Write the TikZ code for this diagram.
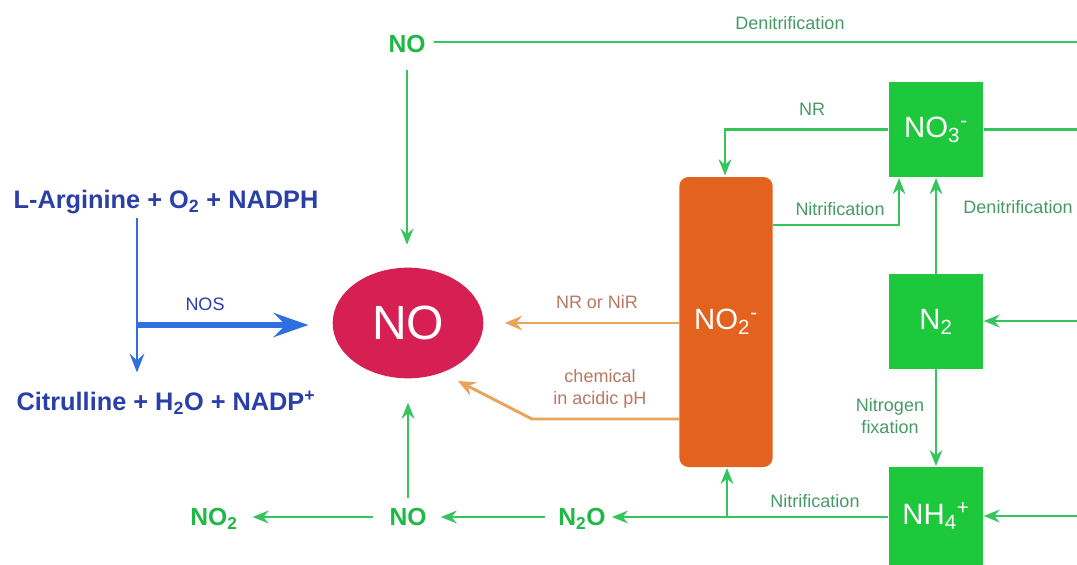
\documentclass[tikz,border=0pt]{standalone}
\usepackage{fontspec}
\setmainfont{Liberation Sans}
\usetikzlibrary{arrows.meta,shapes.geometric,calc}
\definecolor{gline}{HTML}{36C45C}
\definecolor{gbox}{HTML}{1EC83C}
\definecolor{gtext}{HTML}{479A66}
\definecolor{glabel}{HTML}{1FB845}
\definecolor{obox}{HTML}{E2621E}
\definecolor{oline}{HTML}{E8A55A}
\definecolor{otext}{HTML}{B87862}
\definecolor{rell}{HTML}{D61F52}
\definecolor{btext}{HTML}{2A3FA8}
\definecolor{bline}{HTML}{2F6FE0}
\begin{document}
\begin{tikzpicture}[x=0.75pt,y=-0.75pt,
  gconn/.style={draw=gline,line width=2.2pt},
  garrow/.style={gconn,-{Stealth[length=12pt,width=9.5pt,inset=4pt]}},
  oarrow/.style={draw=oline,line width=2.2pt,-{Stealth[length=13pt,width=11pt,inset=4.5pt]}},
  bthin/.style={draw=bline,line width=2.2pt,-{Stealth[length=14pt,width=11pt,inset=5pt]}},
  bthick/.style={draw=bline,line width=4.5pt,-{Stealth[length=26pt,width=18pt,inset=9pt]}},
  species/.style={text=glabel,font=\bfseries\fontsize{18.5}{20}\selectfont,inner sep=0pt,text height=13.3pt,text depth=0pt},
  sqbox/.style={fill=gbox,text=white,minimum width=71pt,minimum height=71.5pt,inner sep=0pt,font=\fontsize{22}{26}\selectfont},
  orbox/.style={fill=obox,text=white,rounded corners=7pt,minimum width=70pt,minimum height=217.5pt,inner sep=0pt,font=\fontsize{22}{26}\selectfont},
  ellnode/.style={ellipse,fill=rell,text=white,minimum width=113pt,minimum height=83pt,inner sep=0pt,font=\fontsize{36}{40}\selectfont},
  bluetext/.style={text=btext,font=\bfseries\fontsize{19}{22}\selectfont,inner sep=2pt},
  lab/.style={text=gtext,font=\fontsize{13.5}{16}\selectfont,align=center,inner sep=1pt},
  olab/.style={text=otext,font=\fontsize{13.5}{16}\selectfont,align=center,inner sep=1pt},
  blab/.style={text=btext,font=\fontsize{13.5}{16}\selectfont,inner sep=1pt}
]
\useasboundingbox (0,0) rectangle (1077,564);
\fill[white] (0,0) rectangle (1077,564);

% nodes
\node[species] (noT) at (407,44) {NO};
\node[ellnode] (ell) at (408,323) {NO};
\node[bluetext] (arg) at (166,202) {L-Arginine + O\textsubscript{2} + NADPH};
\node[bluetext] (cit) at (166,403) {Citrulline + H\textsubscript{2}O + NADP\textsuperscript{+}};
\node[orbox] (no2) at (726,322) {NO\textsubscript{2}\textsuperscript{-}};
\node[sqbox] (no3) at (936,129.5) {NO\textsubscript{3}\textsuperscript{-}};
\node[sqbox] (n2) at (936,321.5) {N\textsubscript{2}};
\node[sqbox,minimum height=73.5pt] (nh4) at (936,516) {NH\textsubscript{4}\textsuperscript{+}};
\node[species] (noB) at (408,517) {NO};
\node[species] (n2o) at (582,517) {N\textsubscript{2}O};
\node[species] (no2B) at (214,517) {NO\textsubscript{2}};

% labels
\node[lab] (lDenTop) at (790,23) {Denitrification};
\node[lab] (lNR) at (812,109) {NR};
\node[lab] (lNitTop) at (840,209) {Nitrification};
\node[lab] (lDenR) at (1018,207) {Denitrification};
\node[lab] (lFix) at (890,416) {Nitrogen\\fixation};
\node[lab] (lNitB) at (815,501) {Nitrification};
\node[olab] (lNiR) at (597,302) {NR or NiR};
\node[olab] (lChem) at (600,389) {chemical\\in acidic pH};
\node[blab] (lNOS) at (205,304) {NOS};

% coordinates
\coordinate (eTop) at (1077,42);
\coordinate (bsplit) at (137,325);
\coordinate (chemK) at (532,419);
\coordinate (chemT) at (458,381);
\coordinate (nrK) at (725,129);
\coordinate (nitK) at (899,225);
\coordinate (eNO3) at (1077,129);
\coordinate (eN2) at (1077,321);
\coordinate (eNH4) at (1077,516);
\coordinate (brK) at (727,516);

% green connectors
\draw[gconn, shorten <=6pt] (noT.east |- eTop) -- (eTop);
\draw[garrow, shorten <=13pt, shorten >=17pt] (noT.south) -- (noT.south |- ell.north);
\draw[garrow, shorten >=1pt] (no3.west) -| (no2.north -| nrK);
\draw[garrow, shorten >=0.5pt] (no2.east |- nitK) -| (no3.south -| nitK);
\draw[garrow, shorten >=0.5pt] (n2.north) -- (no3.south);
\draw[gconn] (no3.east) -- (no3.east -| eNO3);
\draw[garrow] (eN2) -- (n2.east |- eN2);
\draw[garrow, shorten >=0.5pt] (n2.south) -- (nh4.north);
\draw[garrow] (eNH4) -- (nh4.east |- eNH4);
\draw[garrow, shorten >=4.5pt] (nh4.west |- n2o) -- (n2o.east);
\draw[garrow, shorten >=0.5pt] (brK) -- (no2.south -| brK);
\draw[garrow, shorten <=10pt, shorten >=10.5pt] (n2o.west) -- (noB.east);
\draw[garrow, shorten <=12.5pt, shorten >=11pt] (noB.west) -- (no2B.east);
\draw[garrow, shorten <=7.5pt, shorten >=18pt] (noB.north) -- (ell.south);

% orange connectors
\draw[oarrow, shorten >=16pt] (no2.west |- ell) -- (ell.east);
\draw[oarrow] (no2.west |- chemK) -- (chemK) -- (chemT);

% blue connectors
\draw[bthin, shorten <=1pt, shorten >=12pt] (arg.south -| bsplit) -- (cit.north -| bsplit);
\draw[bthick, shorten >=18pt] (bsplit) -- (bsplit -| ell.west);
\end{tikzpicture}
\end{document}
